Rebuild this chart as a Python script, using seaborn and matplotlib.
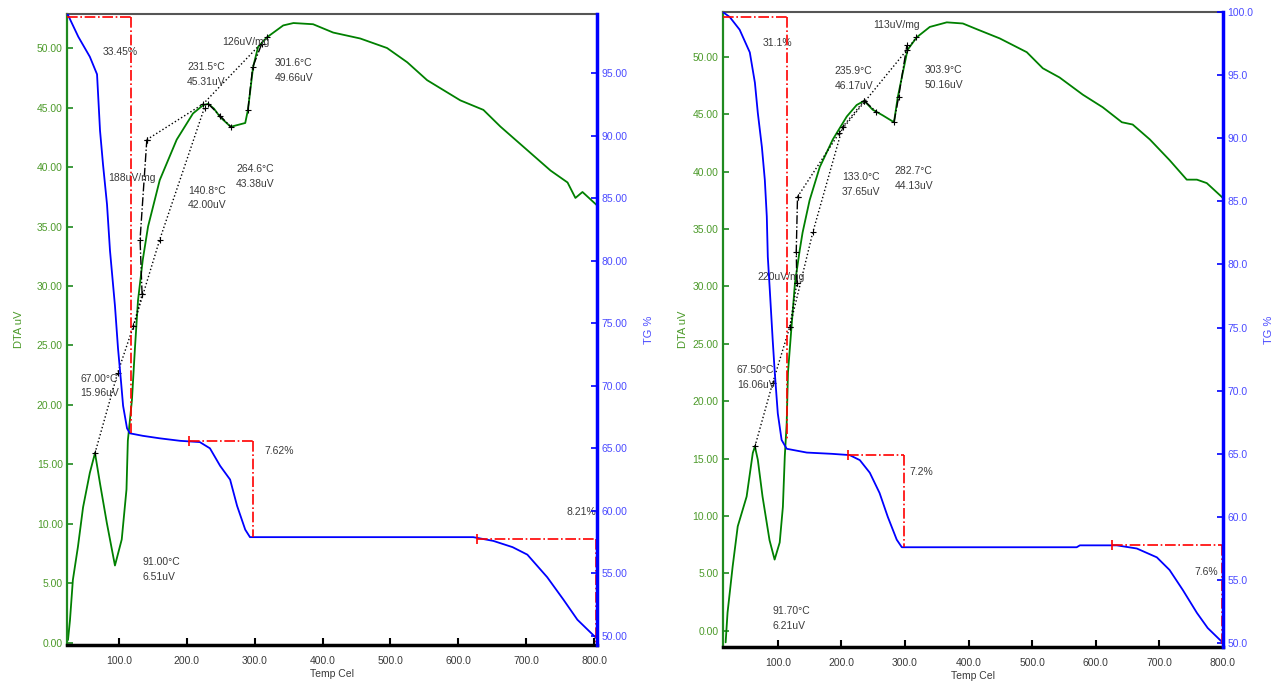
import matplotlib
matplotlib.use("Agg")
import matplotlib.pyplot as plt
import seaborn as sns
from matplotlib.ticker import FormatStrFormatter

sns.set_style("white")
plt.rcParams["font.family"] = ["Liberation Sans", "DejaVu Sans"]

# ---- sample A (left panel) ----
tg_temp_a = [23.4, 40, 57, 67.6, 72, 76.4, 82.3, 86.7, 94, 98.5, 103, 106, 111.8, 116, 135, 160, 190,
             219, 234, 249, 263.7, 274, 286, 293, 400, 500, 622, 651.6, 680, 701.8, 731, 755, 775.5, 804]
tg_a = [99.8, 97.9, 96.3, 94.9, 90.4, 87.7, 84.5, 80.8, 76.4, 73.0, 70.3, 68.4, 66.6, 66.2, 66.0, 65.8, 65.6,
        65.5, 65.0, 63.6, 62.5, 60.4, 58.5, 57.9, 57.9, 57.9, 57.9, 57.6, 57.1, 56.5, 54.7, 52.9, 51.3, 49.8]

dta_temp_a = [24.8, 27.7, 32, 39.5, 47, 57, 64.6, 72, 82, 94, 104, 111, 113, 119, 123.6, 128, 135, 142.8,
              160, 185, 209, 224, 231.5, 240, 249, 264.6, 286, 290, 297.6, 305, 318, 342, 357, 386, 415.6,
              455.5, 495, 524.8, 554, 603, 637, 662, 696, 736, 761, 772.6, 783, 804]
dta_a = [0.25, 1.9, 5.3, 8.1, 11.4, 14.3, 15.96, 13.4, 10.1, 6.51, 8.7, 12.9, 17.0, 20.4, 24.9, 28.8, 32.2, 35.0,
         38.9, 42.3, 44.5, 45.2, 45.31, 44.9, 44.2, 43.38, 43.7, 44.8, 48.4, 50.1, 50.9, 51.9, 52.1, 52.0, 51.3,
         50.8, 50.0, 48.8, 47.3, 45.6, 44.8, 43.4, 41.7, 39.7, 38.7, 37.4, 37.9, 36.8]

tangents_a = [
    ([64.6, 98, 121, 134], [15.96, 22.7, 26.6, 29.3], ":"),
    ([134, 131, 141], [29.3, 33.9, 42.3], "-."),
    ([141, 224, 318], [42.3, 45.3, 50.9], ":"),
    ([121, 160, 226], [26.6, 33.9, 45.0], ":"),
    ([231.5, 249, 264.6], [45.31, 44.3, 43.38], "-."),
    ([290, 297, 310], [44.8, 48.4, 50.3], "-."),
]

step_left_a = [23.4, 203, 628]
step_right_a = [117.7, 298, 803]
step_top_a = [99.5, 65.6, 57.75]
step_bottom_a = [66.2, 57.9, 49.3]

labels_a = ["33.45%", "126uV/mg", "231.5°C\n45.31uV", "301.6°C\n49.66uV", "188uV/mg",
            "140.8°C\n42.00uV", "264.6°C\n43.38uV", "67.00°C\n15.96uV", "91.00°C\n6.51uV", "7.62%", "8.21%"]
label_t_a = [76.4, 251.8, 200.2, 329.9, 83.8, 201.7, 272.4, 42.5, 133.9, 315, 803]
label_v_a = [49.7, 50.5, 47.8, 48.1, 39.1, 37.4, 39.2, 21.6, 6.2, 16.1, 11.0]
label_ha_a = ["left"] * 10 + ["right"]

# ---- sample B (right panel) ----
tg_temp_b = [13.5, 24.5, 40, 56, 64, 68.6, 75, 79.6, 82.7, 84.3, 87.4, 92, 95.3, 100, 106, 114, 145.6, 185,
             213, 229, 244.7, 260, 273, 287, 295, 400, 500, 570, 575, 633, 664.5, 696, 716, 737, 759, 776, 798.5]
tg_b = [100, 99.6, 98.6, 96.8, 94.4, 92.0, 89.3, 86.7, 83.8, 80.6, 78.0, 74.0, 71.4, 68.2, 66.1, 65.4, 65.1, 65.0,
        64.9, 64.5, 63.5, 61.9, 60.0, 58.2, 57.6, 57.6, 57.6, 57.6, 57.75, 57.75, 57.5, 56.8, 55.8, 54.2, 52.4, 51.2, 50.1]

dta_temp_b = [18, 21, 29, 37, 51, 60.7, 64, 68.6, 76, 87, 95, 103, 108, 111, 114, 116, 122, 127, 134.6, 139,
              150, 166, 186.5, 208.5, 224, 235.9, 249, 265, 282.7, 288.7, 296.5, 304, 318.5, 339, 365.7, 391,
              413, 449, 491.5, 516.7, 543, 579.6, 611, 641, 658, 685, 716, 743, 759, 774.5, 800]
dta_b = [-1.0, 1.6, 5.6, 9.1, 11.7, 15.5, 16.06, 14.9, 11.7, 7.9, 6.21, 7.7, 10.8, 15.2, 18.1, 22.5, 26.8, 30.3,
         33.2, 34.7, 37.5, 40.4, 42.8, 44.8, 45.8, 46.17, 45.4, 44.9, 44.3, 46.5, 48.6, 50.6, 51.7, 52.6, 53.0,
         52.9, 52.4, 51.6, 50.4, 49.0, 48.2, 46.7, 45.6, 44.3, 44.1, 42.8, 41.0, 39.3, 39.3, 39.0, 37.7]

tangents_b = [
    ([64, 92, 119, 130], [16.06, 21.6, 26.5, 30.3], ":"),
    ([130, 129, 131], [30.3, 33.0, 37.8], "-."),
    ([131, 197, 303, 318], [37.8, 43.4, 50.6, 51.7], ":"),
    ([119, 155, 202, 235.9], [26.5, 34.7, 43.9, 46.17], ":"),
    ([235.9, 255], [46.17, 45.2], "-."),
    ([282.7, 290, 303], [44.3, 46.5, 51.0], "-."),
]

step_left_b = [13.5, 210, 625]
step_right_b = [114, 298, 798.5]
step_top_b = [99.6, 64.9, 57.8]
step_bottom_b = [66.1, 57.6, 49.7]

labels_b = ["31.1%", "113uV/mg", "235.9°C\n46.17uV", "303.9°C\n50.16uV", "133.0°C\n37.65uV",
            "282.7°C\n44.13uV", "220uV/mg", "67.50°C\n16.06uV", "91.70°C\n6.21uV", "7.2%", "7.6%"]
label_t_b = [76.4, 249.4, 189.7, 331.2, 200.7, 284, 68.5, 35.5, 92.1, 307.6, 792]
label_v_b = [51.2, 52.8, 48.1, 48.2, 38.9, 39.4, 30.8, 22.1, 1.1, 13.8, 5.1]
label_ha_b = ["left"] * 10 + ["right"]

x_ticks = [100, 200, 300, 400, 500, 600, 700, 800]
dta_ticks = [0, 5, 10, 15, 20, 25, 30, 35, 40, 45, 50]

DTA_COLOR = "#1f8a1f"
DTA_TEXT = "#4c9a2a"
TG_COLOR = "#0000ff"
TG_TEXT = "#4a4aff"
TXT = "#3a3a3a"
FS = 7.5


def draw_panel(rect, tg_t, tg_v, d_t, d_v, tangents, s_l, s_r, s_top, s_bot,
               labels, lt, lv, lha, xlim, dlim, tlim, tg_ticks, tg_fmt, pads):
    ax = fig.add_axes(rect)
    tg = ax.twinx()

    sns.lineplot(x=d_t, y=d_v, ax=ax, color="green", lw=1.3, sort=False, estimator=None)
    for xs, ys, ls in tangents:
        ax.plot(xs, ys, color="black", ls=ls, lw=1.0, marker="+", ms=4, mew=0.8)

    sns.lineplot(x=tg_t, y=tg_v, ax=tg, color=TG_COLOR, lw=1.3, sort=False, estimator=None)
    for l, r, top, bot in zip(s_l, s_r, s_top, s_bot):
        tg.plot([l, r], [top, top], color="red", ls="-.", lw=1.2)
        tg.plot([r, r], [top, bot], color="red", ls="-.", lw=1.2)
        if l > xlim[0] + 10:
            tg.plot([l], [top], color="red", marker="|", ms=7, mew=1.2)

    for txt, x, y, ha in zip(labels, lt, lv, lha):
        ax.text(x, y, txt, fontsize=FS, color=TXT, ha=ha, va="center", linespacing=1.6)

    ax.set_xlim(*xlim)
    ax.set_ylim(*dlim)
    tg.set_ylim(*tlim)
    ax.set_xticks(x_ticks)
    ax.xaxis.set_major_formatter(FormatStrFormatter("%.1f"))
    ax.set_yticks(dta_ticks)
    ax.yaxis.set_major_formatter(FormatStrFormatter("%.2f"))
    tg.set_yticks(tg_ticks)
    tg.yaxis.set_major_formatter(FormatStrFormatter(tg_fmt))

    ax.tick_params(axis="x", direction="in", length=5, width=1.5, color="black",
                   labelsize=FS, labelcolor=TXT, bottom=True, pad=8)
    ax.tick_params(axis="y", direction="in", length=4, width=1.2, color=DTA_COLOR,
                   labelsize=FS, labelcolor=DTA_TEXT, left=True, pad=3)
    tg.tick_params(axis="y", direction="in", length=4, width=1.2, color=TG_COLOR,
                   labelsize=FS, labelcolor=TG_TEXT, right=True, pad=3)

    ax.set_xlabel("Temp Cel", fontsize=FS, color=TXT, labelpad=2)
    ax.set_ylabel("DTA uV", fontsize=8, color=DTA_TEXT, labelpad=pads[0])
    tg.set_ylabel("TG %", fontsize=8, color=TG_TEXT, labelpad=pads[1])

    ax.spines["left"].set_color(DTA_COLOR)
    ax.spines["left"].set_linewidth(1.6)
    ax.spines["bottom"].set_color("black")
    ax.spines["bottom"].set_linewidth(2.5)
    ax.spines["top"].set_color("#555555")
    ax.spines["top"].set_linewidth(1.5)
    ax.spines["right"].set_visible(False)
    for side in ["left", "top", "bottom"]:
        tg.spines[side].set_visible(False)
    tg.spines["right"].set_color(TG_COLOR)
    tg.spines["right"].set_linewidth(2.5)
    ax.grid(False)
    tg.grid(False)


fig = plt.figure(figsize=(12.77, 6.86), dpi=100)

draw_panel([0.0525, 0.0598, 0.415, 0.9198], tg_temp_a, tg_a, dta_temp_a, dta_a, tangents_a,
           step_left_a, step_right_a, step_top_a, step_bottom_a,
           labels_a, label_t_a, label_v_a, label_ha_a,
           (23.4, 804.4), (-0.17, 52.86), (49.28, 99.72), [50, 55, 60, 65, 70, 75, 80, 85, 90, 95], "%.2f",
           (9, 12))

draw_panel([0.566, 0.0569, 0.3917, 0.9256], tg_temp_b, tg_b, dta_temp_b, dta_b, tangents_b,
           step_left_b, step_right_b, step_top_b, step_bottom_b,
           labels_b, label_t_b, label_v_b, label_ha_b,
           (13.5, 800), (-1.4, 53.9), (49.7, 100.0), [50, 55, 60, 65, 70, 75, 80, 85, 90, 95, 100], "%.1f",
           (3, 8))

fig.savefig("out.png", dpi=100)
